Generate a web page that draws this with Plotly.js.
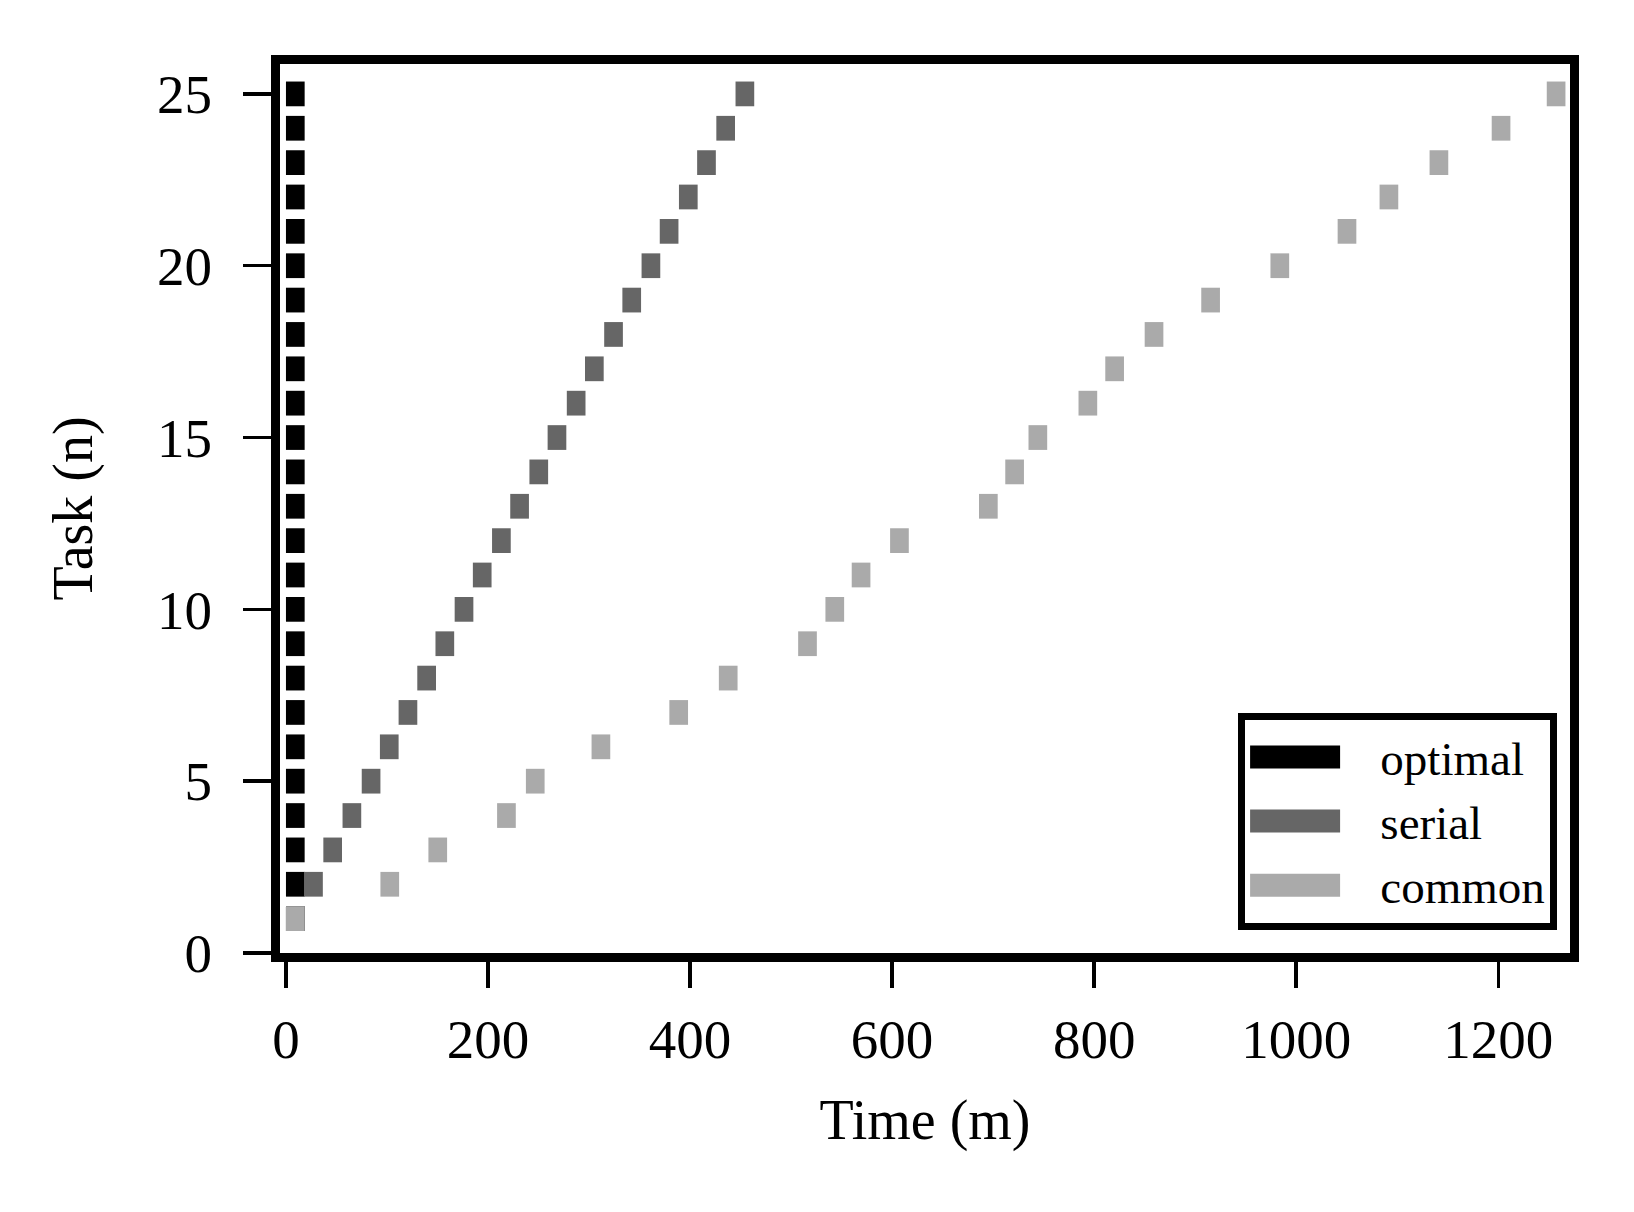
<!DOCTYPE html>
<html>
<head>
<meta charset="utf-8">
<script src="https://cdn.plot.ly/plotly-3.0.1.min.js"></script>
<style>
  html, body { margin: 0; padding: 0; background: #fff; }
  #chart { width: 1634px; height: 1212px; }
</style>
</head>
<body>
<div id="chart"></div>
<script>
// task numbers (y axis)
const tasks = [1, 2, 3, 4, 5, 6, 7, 8, 9, 10, 11, 12, 13, 14, 15, 16, 17, 18, 19, 20, 21, 22, 23, 24, 25];

// start time of each task (minutes)
const optimalStart = [0, 0, 0, 0, 0, 0, 0, 0, 0, 0, 0, 0, 0, 0, 0, 0, 0, 0, 0, 0, 0, 0, 0, 0, 0];
const serialStart = [0, 18, 37, 56, 75, 93, 111.5, 130, 148, 167, 185, 204, 222, 241, 259, 278, 296, 315, 333, 352, 370, 389, 407, 426, 445];
const commonStart = [0, 93.5, 141, 209, 237.5, 302.5, 379.5, 428.5, 507, 534, 560, 598, 686, 712, 735, 784.5, 811, 850, 906, 974.5, 1041, 1082.5, 1132, 1193.5, 1248];

// duration of one task (minutes)
const optimalDur = [18.5, 18.5, 18.5, 18.5, 18.5, 18.5, 18.5, 18.5, 18.5, 18.5, 18.5, 18.5, 18.5, 18.5, 18.5, 18.5, 18.5, 18.5, 18.5, 18.5, 18.5, 18.5, 18.5, 18.5, 18.5];
const serialDur = [18.5, 18.5, 18.5, 18.5, 18.5, 18.5, 18.5, 18.5, 18.5, 18.5, 18.5, 18.5, 18.5, 18.5, 18.5, 18.5, 18.5, 18.5, 18.5, 18.5, 18.5, 18.5, 18.5, 18.5, 18.5];
const commonDur = [18.5, 18.5, 18.5, 18.5, 18.5, 18.5, 18.5, 18.5, 18.5, 18.5, 18.5, 18.5, 18.5, 18.5, 18.5, 18.5, 18.5, 18.5, 18.5, 18.5, 18.5, 18.5, 18.5, 18.5, 18.5];

const seriesNames = ['optimal', 'serial', 'common'];
const seriesColors = ['#000000', '#666666', '#aaaaaa'];

const xTicks = [0, 200, 400, 600, 800, 1000, 1200];
const yTicks = [0, 5, 10, 15, 20, 25];

const FONT = 'Liberation Serif, DejaVu Serif, serif';

const starts = [optimalStart, serialStart, commonStart];
const durs = [optimalDur, serialDur, commonDur];

const traces = [];
// bars (gantt style): base = start, length = duration
for (let i = 0; i < 3; i++) {
    traces.push({
        type: 'bar',
        orientation: 'h',
        y: tasks,
        x: durs[i],
        base: starts[i],
        width: 0.72,
        marker: { color: seriesColors[i], line: { width: 0 } },
        showlegend: false,
        hoverinfo: 'skip'
    });
}
// legend entries only (wide flat swatches like the original)
for (let i = 0; i < 3; i++) {
    traces.push({
        type: 'scatter',
        mode: 'lines',
        x: [null], y: [null],
        name: '\u00a0\u00a0\u00a0' + seriesNames[i],
        line: { color: seriesColors[i], width: 10 },
        showlegend: true
    });
}

const layout = {
    width: 1634,
    height: 1212,
    margin: { l: 280, r: 64, t: 64, b: 259 },
    paper_bgcolor: '#fff',
    plot_bgcolor: '#fff',
    barmode: 'overlay',
    font: { family: FONT, size: 55, color: '#000' },
    xaxis: {
        range: [-5.9, 1271],
        tickvals: xTicks,
        ticks: 'outside', ticklen: 26, tickwidth: 3.5, tickcolor: '#000',
        showline: true, linewidth: 9, linecolor: '#000', mirror: true,
        showgrid: false, zeroline: false,
        tickfont: { family: FONT, size: 55 },
        ticklabelstandoff: 4,
        title: { text: 'Time (m)', font: { family: FONT, size: 56 }, standoff: 34 }
    },
    yaxis: {
        range: [0, 25.87],
        tickvals: yTicks,
        ticks: 'outside', ticklen: 28, tickwidth: 3.5, tickcolor: '#000',
        showline: true, linewidth: 9, linecolor: '#000', mirror: true,
        showgrid: false, zeroline: false,
        tickfont: { family: FONT, size: 55 },
        ticklabelstandoff: 20,
        title: { text: 'Task (n)', font: { family: FONT, size: 56 }, standoff: 50 }
    },
    legend: {
        x: 0.99, xanchor: 'right',
        y: 0.026, yanchor: 'bottom',
        bgcolor: '#fff',
        bordercolor: '#000', borderwidth: 7,
        font: { family: FONT, size: 47 },
        itemwidth: 90,
        tracegroupgap: 0
    }
};

Plotly.newPlot('chart', traces, layout, { displayModeBar: false, staticPlot: true }).then(function () {
    // plotly caps legend line width, make the swatches as tall as in the original
    document.querySelectorAll('.legend .legendlines path').forEach(function (p) {
        p.style.strokeWidth = '23px';
    });
});
</script>
</body>
</html>
